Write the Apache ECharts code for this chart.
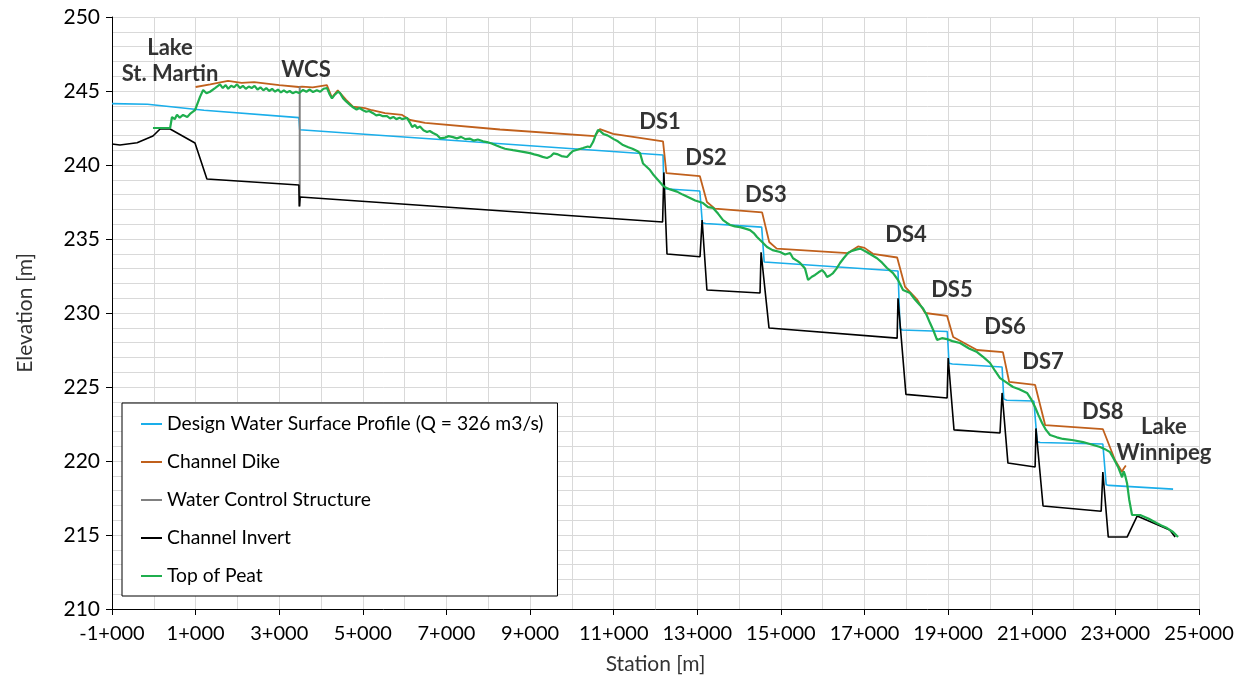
<!DOCTYPE html>
<html>
<head>
    <meta charset="utf-8">
    <script type="text/javascript" src="https://cdn.jsdelivr.net/npm/echarts@6/dist/echarts.min.js"></script>
</head>
<body style="margin:0; background-color:#fff">
<div id="main" style="width:1239px; height:684px;"></div>
<script type="text/javascript">
    // stations in m, elevations in m
    var wsStation = [-1000, -150, 1200, 3470, 3490, 12180, 12200, 13060, 13120, 13200, 14540, 14600, 17800, 17850, 17900, 18980, 19020, 19100, 20290, 20330, 20400, 21050, 21130, 21200, 22700, 22780, 22850, 24380];
    var wsElev    = [244.15, 244.1, 243.7, 243.2, 242.38, 240.68, 238.4, 238.24, 236.1, 236.05, 235.8, 233.45, 232.84, 228.95, 228.85, 228.75, 226.6, 226.55, 226.35, 224.2, 224.1, 224.05, 221.3, 221.25, 221.15, 218.4, 218.35, 218.1];

    var dikeStation = [1000, 1350, 1775, 2100, 2400, 2700, 3000, 3470, 3550, 3800, 4140, 4260, 4400, 4600, 4765, 5050, 5220, 5530, 5940, 6130, 6490, 8280, 10550, 10670, 10985, 12180, 12260, 13060, 13230, 13420, 14550, 14720, 14900, 16600, 16845, 17000, 17200, 17780, 17970, 18260, 18450, 18975, 19120, 19690, 20310, 20460, 21080, 21320, 22700, 22990, 23160, 23200, 23250];
    var dikeElev    = [245.27, 245.45, 245.68, 245.55, 245.6, 245.5, 245.4, 245.27, 245.3, 245.25, 245.4, 244.55, 245.05, 244.4, 243.95, 243.85, 243.7, 243.5, 243.38, 243.04, 242.84, 242.4, 241.95, 242.43, 242.1, 241.6, 239.45, 239.25, 237.5, 237.05, 236.8, 234.8, 234.35, 234.05, 234.5, 234.4, 234.0, 233.75, 231.76, 230.9, 230.0, 229.8, 228.38, 227.5, 227.36, 225.34, 225.14, 222.43, 222.16, 220.07, 219.26, 219.5, 219.7];

    var wcsStation = [3490, 3490];
    var wcsElev    = [245.3, 237.2];

    var invStation = [-1000, -810, -400, -20, 150, 390, 985, 1270, 3470, 3480, 3500, 12170, 12200, 12275, 13065, 13115, 13230, 14500, 14525, 14715, 17780, 17800, 17990, 18975, 19000, 19140, 20240, 20290, 20430, 21080, 21100, 21270, 22660, 22700, 22830, 23280, 23520, 23590, 24300, 24430];
    var invElev    = [241.42, 241.35, 241.5, 241.96, 242.43, 242.43, 241.49, 239.05, 238.65, 237.2, 237.84, 236.15, 239.5, 233.99, 233.8, 236.28, 231.55, 231.35, 234.1, 228.99, 228.3, 231.0, 224.5, 224.26, 226.96, 222.1, 221.89, 224.6, 219.86, 219.6, 222.2, 216.96, 216.6, 219.26, 214.86, 214.86, 216.28, 216.2, 215.34, 214.86];

    var peatStation = [-20, 390, 435, 500, 555, 620, 700, 800, 866, 985, 1105, 1180, 1260, 1344, 1464, 1583,
        1650, 1720, 1780, 1850, 1920, 1990, 2060, 2130, 2200, 2270, 2340, 2410, 2480, 2550, 2620, 2690, 2760, 2830, 2900, 2970, 3040, 3110, 3180, 3250, 3320, 3400, 3473,
        3570, 3650, 3730, 3808, 3900, 3980, 4060, 4143, 4200, 4262, 4330, 4406, 4454, 4530, 4600, 4680, 4765, 4850, 4920, 5004, 5080, 5150, 5243, 5320, 5400, 5480, 5578, 5650, 5730, 5800, 5880, 5937, 6056, 6128, 6180, 6250, 6300, 6367, 6450, 6535, 6600, 6678, 6774, 6850, 6965, 7050, 7157, 7250, 7350, 7450, 7564, 7650, 7750, 7875, 7970, 8080, 8209,
        8300, 8400, 8500, 8592, 8700, 8800, 8900, 8999, 9100, 9200, 9300, 9405, 9500, 9560, 9644, 9750, 9884, 9950, 10027, 10150, 10266, 10380, 10434, 10506, 10580, 10625, 10673, 10750, 10850, 10912, 11000, 11100, 11223, 11350, 11450, 11560, 11630, 11701, 11780, 11869, 11960, 12060, 12180,
        12228, 12350, 12515, 12650, 12826, 12950, 13065, 13137, 13257, 13376, 13500, 13616, 13700, 13783, 13900, 14022, 14150, 14261, 14350, 14428, 14550, 14668,
        14800, 14979, 15100, 15218, 15290, 15400, 15458, 15577, 15649, 15740, 15816, 15900, 15983, 16050, 16103, 16180, 16247, 16330, 16414, 16500, 16605, 16700, 16820, 16900, 17060, 17180, 17299, 17420, 17538, 17682, 17801, 17921,
        18089, 18180, 18280, 18400, 18480, 18567, 18650, 18734, 18850, 18973, 19100, 19284, 19500, 19691, 19850, 20002, 20120, 20241, 20400, 20552, 20700, 20887, 20980, 21078, 21160, 21246, 21340, 21437, 21600, 21748, 22000, 22226, 22450, 22633, 22750, 22872, 22970, 23064, 23120, 23160, 23200, 23231, 23279, 23330, 23398, 23590, 23800, 23996, 24100, 24236, 24380, 24499];
    var peatElev = [242.5, 242.5, 243.24, 243.1, 243.4, 243.2, 243.38, 243.25, 243.45, 243.7, 244.6, 245.07, 244.85, 244.95, 245.2, 245.45,
        245.2, 245.4, 245.15, 245.35, 245.25, 245.45, 245.2, 245.35, 245.15, 245.3, 245.2, 245.35, 245.1, 245.25, 245.05, 245.2, 245.0, 245.15, 244.95, 245.1, 244.9, 245.05, 244.9, 245.0, 244.85, 244.95, 244.86,
        245.07, 244.95, 245.1, 244.93, 245.05, 244.95, 245.15, 245.2, 244.8, 244.5, 244.75, 244.95, 244.86, 244.5, 244.3, 244.1, 243.9, 243.75, 243.85, 243.7, 243.6, 243.65, 243.5, 243.35, 243.4, 243.3, 243.3, 243.15, 243.25, 243.1, 243.2, 243.1, 243.18, 242.85, 242.57, 242.7, 242.5, 242.6, 242.35, 242.23, 242.3, 242.16, 242.03, 241.8, 241.85, 241.95, 241.88, 241.8, 241.9, 241.75, 241.78, 241.65, 241.72, 241.6, 241.55, 241.45, 241.3,
        241.2, 241.1, 241.05, 241.0, 240.95, 240.9, 240.85, 240.8, 240.72, 240.65, 240.55, 240.47, 240.6, 240.78, 240.74, 240.6, 240.54, 240.75, 240.95, 241.05, 241.15, 241.25, 241.2, 241.55, 242.1, 242.36, 242.3, 242.1, 242.0, 241.9, 241.75, 241.6, 241.35, 241.2, 241.1, 240.95, 240.8, 240.1, 239.9, 239.66, 239.3, 238.99, 238.6,
        238.5, 238.35, 238.2, 238.0, 237.77, 237.6, 237.5, 237.43, 237.15, 237.1, 236.7, 236.28, 236.1, 235.95, 235.85, 235.8, 235.7, 235.6, 235.4, 235.14, 234.8, 234.46,
        234.25, 234.12, 233.95, 234.05, 233.7, 233.5, 233.38, 233.0, 232.23, 232.45, 232.57, 232.75, 232.9, 232.7, 232.43, 232.55, 232.7, 233.0, 233.38, 233.7, 234.05, 234.2, 234.3, 234.35, 234.1, 233.9, 233.7, 233.4, 233.04, 232.7, 232.23, 231.55,
        231.35, 231.0, 230.68, 230.3, 229.9, 229.32, 228.8, 228.18, 228.3, 228.24, 228.1, 227.97, 227.6, 227.36, 227.0, 226.62, 226.1, 225.6, 225.3, 225.0, 224.85, 224.6, 224.2, 223.65, 223.1, 222.57, 222.1, 221.76, 221.6, 221.49, 221.4, 221.28, 221.1, 220.95, 220.8, 220.6, 220.1, 219.6, 219.2, 218.9, 219.3, 219.05, 218.5, 217.4, 216.35, 216.35, 216.1, 215.8, 215.65, 215.47, 215.2, 214.86];

    var noteText    = ['Lake\nSt. Martin', 'WCS', 'DS1', 'DS2', 'DS3', 'DS4', 'DS5', 'DS6', 'DS7', 'DS8', 'Lake\nWinnipeg'];
    var noteStation = [388, 3640, 12110, 13210, 14640, 17990, 19090, 20360, 21270, 22700, 24160];
    var noteElev    = [247.0, 246.4, 242.9, 240.47, 237.97, 235.27, 231.55, 229.05, 226.7, 223.3, 221.4];

    // axis runs from -1+000, shift so ticks start at a multiple of the interval
    var X_OFF = 1000;
    var FONT = 'Lato, "Open Sans", sans-serif';

    function pts(st, el) {
        return st.map(function (s, i) { return [s + X_OFF, el[i]]; });
    }

    function line(name, color, st, el, width) {
        return {
            name: name,
            type: 'line',
            data: pts(st, el),
            showSymbol: false,
            symbol: 'none',
            color: color,
            lineStyle: { color: color, width: width },
            itemStyle: { color: color },
            emphasis: { disabled: true }
        };
    }

    var myChart = echarts.init(document.getElementById('main'));
    var gridColor = '#d9d9d9';

    var option = {
        animation: false,
        textStyle: { fontFamily: FONT },
        grid: { left: 112, right: 40, top: 17, bottom: 75 },
        legend: {
            orient: 'vertical',
            left: 122,
            top: 403,
            padding: [11, 14, 10, 18],
            itemGap: 18,
            itemWidth: 21,
            itemHeight: 14,
            itemStyle: { opacity: 0 },
            lineStyle: { width: 2 },
            backgroundColor: '#fff',
            borderColor: '#000',
            borderWidth: 1,
            textStyle: { fontFamily: FONT, fontSize: 19.3, color: '#000', lineHeight: 20 },
            data: ['Design Water Surface Profile (Q = 326 m3/s)', 'Channel Dike', 'Water Control Structure', 'Channel Invert', 'Top of Peat']
        },
        xAxis: {
            type: 'value',
            min: 0,
            max: 26000,
            interval: 2000,
            name: 'Station [m]',
            nameLocation: 'middle',
            nameGap: 45,
            nameTextStyle: { fontFamily: FONT, fontSize: 21, color: '#333' },
            axisLine: { lineStyle: { color: '#000', width: 1 } },
            axisTick: { show: true, length: 6, lineStyle: { color: '#000' } },
            axisLabel: {
                margin: 15,
                fontSize: 20,
                color: '#000',
                fontFamily: FONT,
                formatter: function (v) { return Math.round((v - X_OFF) / 1000) + '+000'; }
            },
            splitLine: { show: true, lineStyle: { color: gridColor, width: 1 } },
            minorTick: { show: false, splitNumber: 2 },
            minorSplitLine: { show: true, lineStyle: { color: gridColor, width: 1 } }
        },
        yAxis: {
            type: 'value',
            min: 210,
            max: 250,
            interval: 5,
            name: 'Elevation [m]',
            nameLocation: 'middle',
            nameGap: 76,
            nameTextStyle: { fontFamily: FONT, fontSize: 21, color: '#333' },
            axisLine: { show: true, lineStyle: { color: '#000', width: 1 } },
            axisTick: { show: true, length: 6, lineStyle: { color: '#000' } },
            axisLabel: { margin: 12, fontSize: 21, color: '#000', fontFamily: FONT },
            splitLine: { show: true, lineStyle: { color: gridColor, width: 1 } },
            minorTick: { show: false, splitNumber: 5 },
            minorSplitLine: { show: true, lineStyle: { color: gridColor, width: 1 } }
        },
        series: [
            line('Design Water Surface Profile (Q = 326 m3/s)', '#1aaeea', wsStation, wsElev, 1.6),
            line('Channel Dike', '#c0601c', dikeStation, dikeElev, 1.8),
            line('Water Control Structure', '#808080', wcsStation, wcsElev, 2),
            line('Channel Invert', '#000000', invStation, invElev, 1.6),
            line('Top of Peat', '#1fae4e', peatStation, peatElev, 2.2),
            {
                name: 'notes',
                type: 'scatter',
                symbolSize: 0,
                silent: true,
                data: noteText.map(function (t, i) {
                    return { value: [noteStation[i] + X_OFF, noteElev[i]], name: t };
                }),
                label: {
                    show: true,
                    position: 'inside',
                    formatter: function (p) { return p.name; },
                    fontFamily: FONT,
                    fontWeight: 'bold',
                    fontSize: 22,
                    lineHeight: 26,
                    color: '#000'
                }
            }
        ]
    };
    myChart.setOption(option);
</script>
</body>
</html>
